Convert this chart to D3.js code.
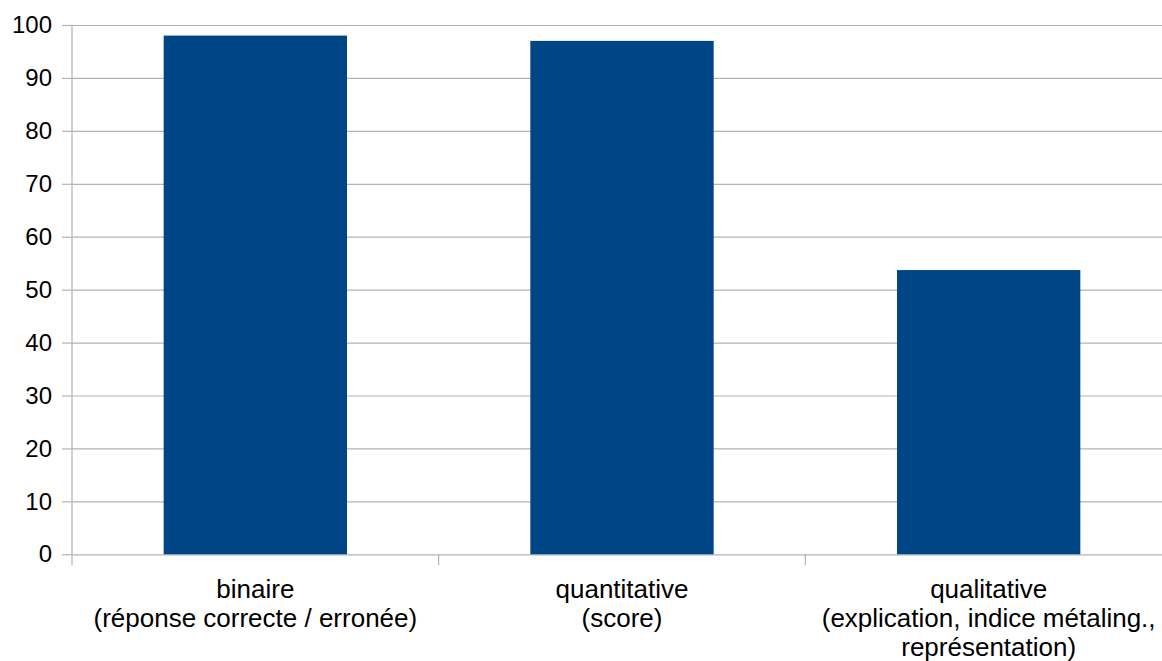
<!DOCTYPE html>
<html>
<head>
<meta charset="utf-8">
<script src="https://cdn.jsdelivr.net/npm/d3@7"></script>
<style>
  body { margin: 0; background: #fff; overflow: hidden; }
  svg { display: block; font-family: "Liberation Sans", Arial, sans-serif; }
</style>
</head>
<body>
<div id="chart"></div>
<script>
// data
const categories = ["binaire", "quantitative", "qualitative"];
const categoryLines = [
    ["binaire", "(réponse correcte / erronée)"],
    ["quantitative", "(score)"],
    ["qualitative", "(explication, indice métaling.,", "représentation)"]
];
const values = [98, 97, 53.7];
const yTicks = [0, 10, 20, 30, 40, 50, 60, 70, 80, 90, 100];

const W = 1162, H = 661;
const plot = {left: 72, right: 1172, top: 25, bottom: 554.3};

const svg = d3.select("#chart").append("svg")
    .attr("width", W)
    .attr("height", H);

const x = d3.scaleBand()
    .domain(categories)
    .range([plot.left, plot.right])
    .paddingInner(0.5)
    .paddingOuter(0.25);

const y = d3.scaleLinear()
    .domain([0, 100])
    .range([plot.bottom, plot.top]);

// gridlines + y axis
const yAxis = svg.append("g")
    .attr("transform", `translate(${plot.left},0)`)
    .call(d3.axisLeft(y).tickValues(yTicks).tickSize(10).tickPadding(10));
yAxis.select(".domain").remove();
yAxis.selectAll(".tick line")
    .attr("stroke", "#b3b3b3")
    .attr("stroke-width", 1.2);
yAxis.selectAll(".tick").append("line")
    .attr("x1", 0)
    .attr("x2", plot.right - plot.left)
    .attr("stroke", "#b3b3b3")
    .attr("stroke-width", 1.2);
yAxis.selectAll(".tick text")
    .attr("font-size", 24)
    .attr("fill", "#000")
    .attr("font-family", "Liberation Sans, Arial, sans-serif");

// bars
svg.append("g")
    .selectAll("rect")
    .data(values)
    .join("rect")
    .attr("x", (d, i) => x(categories[i]))
    .attr("y", d => y(d))
    .attr("width", x.bandwidth())
    .attr("height", d => y(0) - y(d))
    .attr("fill", "#004586");

// vertical axis line
svg.append("line")
    .attr("x1", plot.left).attr("x2", plot.left)
    .attr("y1", plot.top).attr("y2", plot.bottom + 11)
    .attr("stroke", "#b3b3b3")
    .attr("stroke-width", 1.2);

// category boundary ticks
const bounds = d3.range(categories.length + 1).map(i => plot.left + i * x.step());
svg.append("g")
    .selectAll("line")
    .data(bounds.slice(1))
    .join("line")
    .attr("x1", d => d).attr("x2", d => d)
    .attr("y1", plot.bottom).attr("y2", plot.bottom + 11)
    .attr("stroke", "#b3b3b3")
    .attr("stroke-width", 1.2);

// category labels
const labels = svg.append("g")
    .selectAll("text")
    .data(categories)
    .join("text")
    .attr("x", d => x(d) + x.bandwidth() / 2)
    .attr("y", 598)
    .attr("text-anchor", "middle")
    .attr("font-size", 26)
    .attr("fill", "#000");

labels.each(function(d, i) {
    d3.select(this).selectAll("tspan")
        .data(categoryLines[i])
        .join("tspan")
        .attr("x", x(d) + x.bandwidth() / 2)
        .attr("dy", (t, j) => j === 0 ? 0 : 29)
        .text(t => t);
});
</script>
</body>
</html>
